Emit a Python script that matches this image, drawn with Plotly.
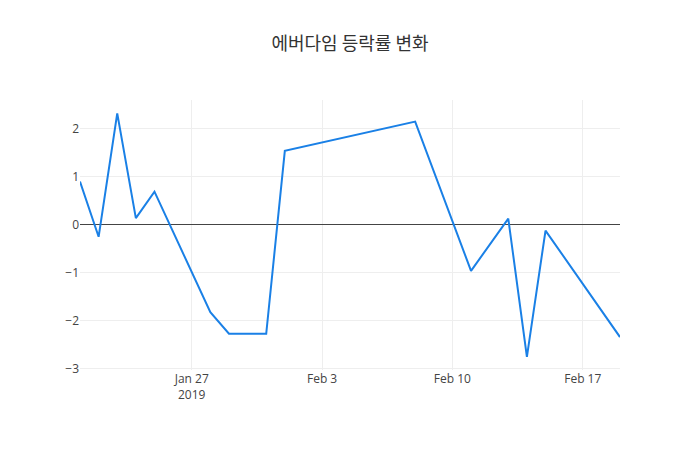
import plotly.graph_objects as go

dates = ["2019-01-21", "2019-01-22", "2019-01-23", "2019-01-24", "2019-01-25",
         "2019-01-28", "2019-01-29", "2019-01-31", "2019-02-01", "2019-02-08",
         "2019-02-11", "2019-02-13", "2019-02-14", "2019-02-15", "2019-02-19"]
changes = [0.89, -0.26, 2.31, 0.13, 0.68,
           -1.83, -2.28, -2.28, 1.53, 2.14,
           -0.97, 0.12, -2.76, -0.13, -2.35]

fig = go.Figure()
fig.add_trace(go.Scatter(x=dates, y=changes, mode="lines",
                         line=dict(color="#1a80e6", width=2)))

axis_common = dict(showgrid=True, gridcolor="#eeeeee", gridwidth=1,
                   showline=False, ticks="",
                   tickfont=dict(family="Open Sans", size=12, color="#444"))

fig.update_layout(
    width=700, height=450,
    title=dict(text="에버다임 등락률 변화", x=0.5, xanchor="center",
               font=dict(family="Noto Sans CJK KR", size=18, color="#333")),
    plot_bgcolor="white", paper_bgcolor="white",
    margin=dict(l=80, r=80, t=100, b=80),
    showlegend=False,
    xaxis=dict(**axis_common, range=["2019-01-21", "2019-02-19"], zeroline=False),
    yaxis=dict(**axis_common, range=[-3.035, 2.59], zeroline=True,
               zerolinecolor="#444", zerolinewidth=1, dtick=1),
)

fig.write_html("out.html")
